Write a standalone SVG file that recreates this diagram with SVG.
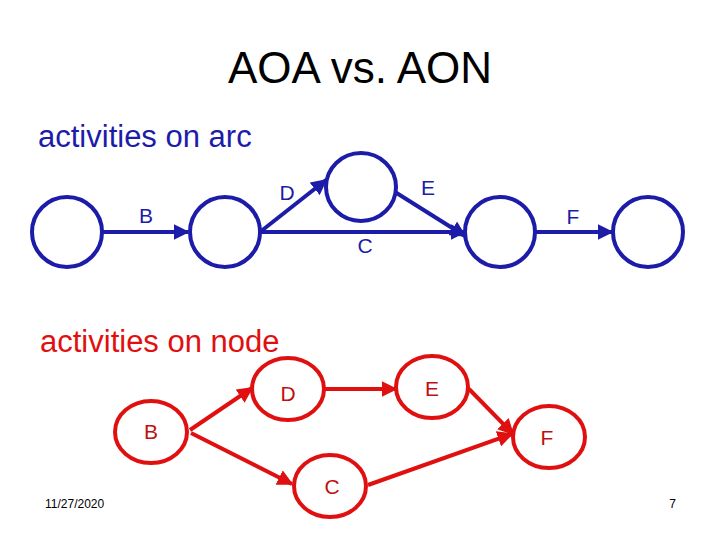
<svg xmlns="http://www.w3.org/2000/svg" width="720" height="540" viewBox="0 0 720 540">
<style>
text{font-family:"Liberation Sans",Arial,sans-serif}
.bn{fill:#fff;stroke:#1c1ca8;stroke-width:4}
.rn{fill:#fff;stroke:#e01010;stroke-width:4}
.bl{stroke:#1c1ca8;stroke-width:4;fill:none;marker-end:url(#ba)}
.rl{stroke:#e01010;stroke-width:4;fill:none;marker-end:url(#ra)}
.bt{font-size:21px;fill:#1c1ca8}
.rt{font-size:21px;fill:#c01010}
</style>
<defs>
<marker id="ba" viewBox="0 0 10 10" refX="9" refY="5" markerWidth="4" markerHeight="4" orient="auto" markerUnits="strokeWidth"><path d="M0,0L10,5L0,10z" fill="#1c1ca8"/></marker>
<marker id="ra" viewBox="0 0 10 10" refX="9" refY="5" markerWidth="4" markerHeight="4" orient="auto" markerUnits="strokeWidth"><path d="M0,0L10,5L0,10z" fill="#e01010"/></marker>
</defs>
<rect width="720" height="540" fill="#fff"/>
<text x="360" y="83" font-size="44" text-anchor="middle">AOA vs. AON</text>
<text x="38" y="147" font-size="31" fill="#1c1ca8">activities on arc</text>
<text x="40" y="352" font-size="31" fill="#e01010">activities on node</text>
<text x="45" y="508" font-size="12">11/27/2020</text>
<text x="676" y="508" font-size="12" text-anchor="end">7</text>
<g id="connectors">
<line class="bl" x1="103" y1="232" x2="188" y2="232"/>
<line class="bl" x1="260" y1="232" x2="326" y2="180"/>
<line class="bl" x1="395" y1="192" x2="465" y2="236"/>
<line class="bl" x1="260" y1="232" x2="465" y2="232"/>
<line class="bl" x1="535" y1="232" x2="612" y2="232"/>
<line class="rl" x1="190" y1="430" x2="252" y2="388"/>
<line class="rl" x1="325" y1="389" x2="396" y2="389"/>
<line class="rl" x1="469" y1="389" x2="513" y2="434"/>
<line class="rl" x1="368" y1="485" x2="512" y2="434"/>
<line class="rl" x1="191" y1="433" x2="292" y2="484"/>
<text class="bt" x="146" y="223" text-anchor="middle">B</text>
<text class="bt" x="287" y="200" text-anchor="middle">D</text>
<text class="bt" x="428" y="195" text-anchor="middle">E</text>
<text class="bt" x="365" y="253" text-anchor="middle">C</text>
<text class="bt" x="573" y="224" text-anchor="middle">F</text>
</g>
<g id="a1"><ellipse class="bn" cx="67" cy="232" rx="35" ry="35"/></g>
<g id="a2"><ellipse class="bn" cx="225" cy="232" rx="35" ry="35"/></g>
<g id="a3"><ellipse class="bn" cx="361" cy="187" rx="35" ry="34"/></g>
<g id="a4"><ellipse class="bn" cx="500" cy="232" rx="35" ry="35"/></g>
<g id="a5"><ellipse class="bn" cx="648" cy="232" rx="35" ry="35"/></g>
<g id="nB"><ellipse class="rn" cx="151" cy="432" rx="36" ry="31"/><text class="rt" x="151" y="439" text-anchor="middle">B</text></g>
<g id="nD"><ellipse class="rn" cx="288" cy="389" rx="36" ry="31"/><text class="rt" x="288" y="401" text-anchor="middle">D</text></g>
<g id="nE"><ellipse class="rn" cx="432" cy="387" rx="36" ry="31"/><text class="rt" x="432" y="396" text-anchor="middle">E</text></g>
<g id="nF"><ellipse class="rn" cx="549" cy="437" rx="36" ry="31"/><text class="rt" x="547" y="445" text-anchor="middle">F</text></g>
<g id="nC"><ellipse class="rn" cx="330" cy="486" rx="36" ry="31"/><text class="rt" x="332" y="494" text-anchor="middle">C</text></g>
</svg>
